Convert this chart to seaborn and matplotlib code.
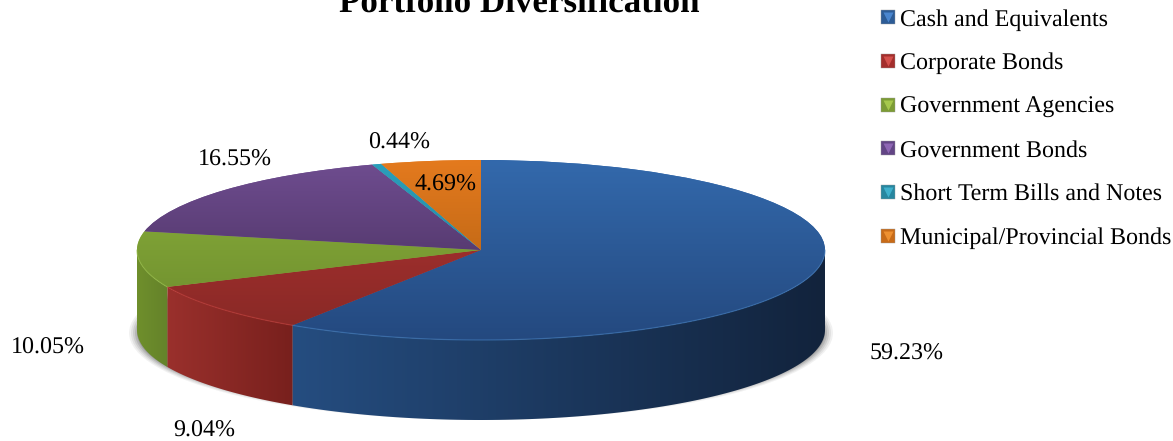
import numpy as np
import matplotlib
matplotlib.use("Agg")
import matplotlib.pyplot as plt
from matplotlib.colors import LinearSegmentedColormap
from matplotlib.legend_handler import HandlerTuple
from matplotlib.lines import Line2D
from matplotlib.patches import Ellipse, Polygon
import seaborn as sns

# values
categories = ["Cash and Equivalents", "Corporate Bonds", "Government Agencies",
              "Government Bonds", "Short Term Bills and Notes", "Municipal/Provincial Bonds"]
shares = [59.23, 9.04, 10.05, 16.55, 0.44, 4.69]
share_labels = ["59.23%", "9.04%", "10.05%", "16.55%", "0.44%", "4.69%"]
label_px = [(907, 352), (204, 429), (48, 346), (235, 158), (399, 141), (446, 183)]

# top face gradient, wall gradient, legend highlight
top_light = ["#3369ac", "#b23433", "#8bb03c", "#6f4d90", "#2b9fbb", "#e47a1e"]
top_dark = ["#24497f", "#862825", "#6b8a2c", "#412a55", "#1f7d94", "#a85c10"]
wall_left = ["#254d80", "#9a302c", "#6f8f2c", "#4f3567", "#1f7d94", "#a85c10"]
wall_right = ["#12233c", "#78201d", "#64822a", "#4f3567", "#1f7d94", "#a85c10"]
rim = ["#3f78b8", "#bd3c38", "#93b945", "#6f4d90", "#2b9fbb", "#e47a1e"]
legend_dark = ["#2d5c96", "#a32e2c", "#7c9c35", "#624585", "#27869f", "#c86b18"]
legend_light = ["#4a86cf", "#d4504c", "#a6c84c", "#8e66b4", "#3fb0cc", "#ee9030"]

sns.set_theme(style="white")
plt.rcParams["font.family"] = ["Liberation Serif", "DejaVu Serif"]
plt.rcParams["text.hinting"] = "no_hinting"
plt.rcParams["text.hinting_factor"] = 1

W, H = 1173, 441
CX, CY, RX, RY, DEPTH = 481, 250, 344, 90, 80


def ramp(c1, c2):
    return LinearSegmentedColormap.from_list("r", sns.color_palette([c1, c2]))


fig = plt.figure(figsize=(W / 100, H / 100), dpi=100)
ax = fig.add_axes([0, 0, 1, 1])
depth = DEPTH / RY

# soft shadow under the disc, only its sides show
for grow, alpha in zip([8, 6, 4, 2, 0], [0.07, 0.09, 0.12, 0.16, 0.22]):
    ax.add_patch(Ellipse((0, (CY - 333) / RY), 2 + 2 * grow / RX, 2 * (83 + grow / 2) / RY,
                         fc="#444444", ec="none", alpha=alpha, zorder=1))

# side walls, only the front half of the disc shows
edges = 90 - np.cumsum([0] + shares) * 3.6
for i in range(len(shares)):
    lo, hi = max(edges[i + 1], -180), min(edges[i], 0)
    if lo >= hi:
        continue
    th = np.radians(np.linspace(lo, hi, 120))
    x, y = np.cos(th), np.sin(th)
    poly = Polygon(np.r_[np.c_[x, y], np.c_[x[::-1], y[::-1] - depth]],
                   fc="none", ec="none", transform=ax.transData)
    ax.add_patch(poly)
    im = ax.imshow(np.linspace(0, 1, 256)[None, :], cmap=ramp(wall_left[i], wall_right[i]),
                   extent=(x.min(), x.max(), -1 - depth, 1), aspect="auto", zorder=2)
    im.set_clip_path(poly)

# top face
wedges, _ = ax.pie(shares, startangle=90, counterclock=False, radius=1,
                   colors=top_light, wedgeprops={"linewidth": 0})
for i, w in enumerate(wedges):
    w.set_zorder(2.5)
    im = ax.imshow(np.linspace(0, 1, 256)[:, None], cmap=ramp(top_light[i], top_dark[i]),
                   extent=(-1, 1, -1, 1), aspect="auto", zorder=3)
    im.set_clip_path(w)

# bright line on the front edge of the top face
for i in range(len(shares)):
    lo, hi = max(edges[i + 1], -180), min(edges[i], 0)
    if lo < hi:
        th = np.radians(np.linspace(lo, hi, 120))
        ax.plot(np.cos(th), np.sin(th), color=rim[i], lw=0.9, alpha=0.6, zorder=4)

ax.set_aspect("auto")
ax.set_xlim(-CX / RX, (W - CX) / RX)
ax.set_ylim((CY - H) / RY, CY / RY)
ax.axis("off")

fig.text(519.5 / W, 1 - 12 / H, "Portfolio Diversification", ha="center", va="baseline",
         fontsize=25.4, fontweight="bold", color="black")

for txt, (px, py) in zip(share_labels, label_px):
    fig.text(px / W, 1 - (py + 2) / H, txt, ha="center", va="center", fontsize=17.6, color="black")

handles = [(Line2D([], [], ls="", marker="s", ms=9.8, mfc=legend_dark[i], mec="#9a9a9a", mew=0.3),
            Line2D([], [], ls="", marker="v", ms=7, mfc=legend_light[i], mec="none"))
           for i in range(len(categories))]
fig.legend(handles, categories, handler_map={tuple: HandlerTuple(ndivide=1, pad=0)},
           loc="upper left", bbox_to_anchor=(876 / W, 1 - 9 / H), frameon=False, fontsize=17,
           labelcolor="black", labelspacing=0.925, handlelength=1.0, handletextpad=0,
           borderpad=0, borderaxespad=0)

fig.savefig("out.png", dpi=100)
